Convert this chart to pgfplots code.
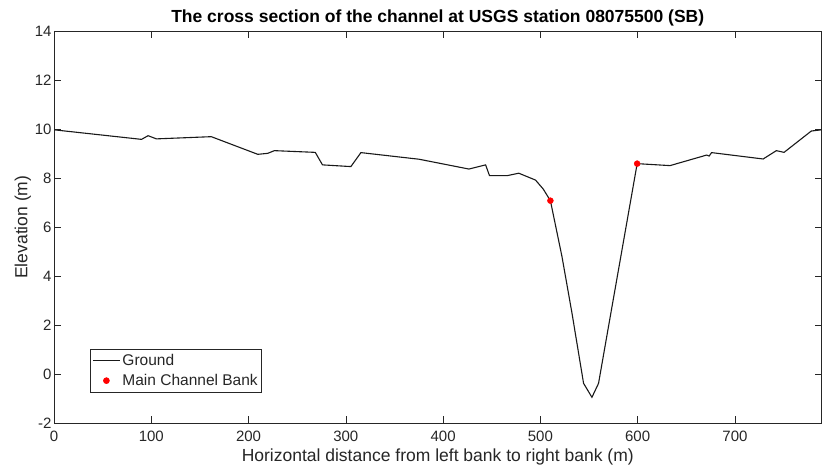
\documentclass[border=0pt]{standalone}
\usepackage{fontspec}
\setmainfont{Liberation Sans}
\usepackage{pgfplots}
\pgfplotsset{compat=1.18}
\definecolor{axgray}{RGB}{38,38,38}
\pgfplotsset{
  longline legend/.style={legend image code/.code={\draw[##1] (0bp,0bp) -- (27bp,0bp);}},
  dot legend/.style={legend image code/.code={\draw[mark repeat=2, mark phase=2, ##1] plot coordinates {(0bp,0bp) (13.5bp,0bp) (27bp,0bp)};}},
}
\begin{document}
\begin{tikzpicture}
\begin{axis}[
  name=ax,
  scale only axis, width=767.5bp, height=392.3bp,
  xmin=0, xmax=789, ymin=-2, ymax=14,
  xtick={0,100,...,700}, ytick={-2,0,...,14},
  tick align=inside, major tick length=7bp,
  axis line style={axgray, line width=0.6bp},
  tick style={axgray, line width=0.6bp},
  ticklabel style={font=\fontsize{15bp}{17bp}\selectfont, text=axgray},
  xticklabel style={yshift=-4bp},
  yticklabel style={xshift=1bp},
  /pgf/number format/assume math mode=true,
  title={\bfseries The cross section of the channel at USGS station 08075500 (SB)},
  title style={font=\fontsize{17.5bp}{19bp}\selectfont, text=black, yshift=-5bp},
  xlabel={Horizontal distance from left bank to right bank (m)},
  ylabel={Elevation (m)},
  xlabel style={yshift=-1bp},
  ylabel style={yshift=-3bp},
  label style={font=\fontsize{17.5bp}{19bp}\selectfont, text=axgray},
  legend style={at={(0.047,0.079)}, anchor=south west, draw=axgray, line width=0.6bp,
    font=\fontsize{15.5bp}{18bp}\selectfont, text=axgray, inner xsep=2bp, inner ysep=3bp,
    row sep=3bp},
  legend cell align=left,
]
\addplot[black!90, line width=1.1bp, longline legend]
  coordinates {
(0,9.97) (90,9.58) (96.7,9.73) (105.3,9.60) (161.7,9.69) (209.5,8.97)
(219.7,9.01) (226.6,9.12) (268.6,9.05) (276,8.54) (305.2,8.47) (315.5,9.04)
(375.3,8.77) (426.5,8.37) (443.7,8.54) (447.7,8.10) (465.8,8.10) (477.8,8.20)
(495,7.92) (503,7.55) (510.3,7.08) (522.2,4.80) (532.5,2.49) (544.4,-0.37)
(553,-0.94) (559.8,-0.37) (570,1.94) (599.5,8.59) (633.3,8.51) (670.9,8.94)
(673.5,8.90) (676,9.04) (729,8.78) (742.6,9.12) (750.5,9.05) (778.5,9.92)
(789,9.97)
};
\addlegendentry{Ground}
\addplot[only marks, mark=*, mark size=3bp, color=red, mark options={draw=red, fill=red}, dot legend]
  coordinates {(510.3,7.08) (599.5,8.59)};
\addlegendentry{Main Channel Bank}
\end{axis}
\pgfresetboundingbox
\path[use as bounding box] ([xshift=-54bp,yshift=-48.7bp]ax.south west) rectangle ([xshift=0.5bp,yshift=31bp]ax.north east);
\end{tikzpicture}
\end{document}
